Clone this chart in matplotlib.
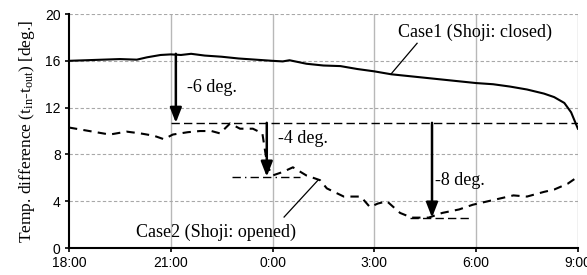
import numpy as np
import matplotlib
matplotlib.use("Agg")
import matplotlib.pyplot as plt

serif = "Liberation Serif"
sans = "Liberation Sans"
plt.rcParams["mathtext.fontset"] = "custom"
plt.rcParams["mathtext.rm"] = serif
plt.rcParams["mathtext.it"] = serif + ":italic"

# hours since 18:00
tick_pos = [0, 3, 6, 9, 12, 15]
tick_labels = ["18:00", "21:00", "0:00", "3:00", "6:00", "9:00"]

h1 = [0, 0.5, 1.0, 1.5, 2.0, 2.3, 2.7, 3.0, 3.3, 3.6, 4.0, 4.5, 5.0, 5.5, 6.0,
      6.3, 6.5, 7.0, 7.5, 8.0, 8.5, 9.0, 9.5, 10.0, 10.5, 11.0, 11.5, 12.0,
      12.5, 13.0, 13.5, 14.0, 14.3, 14.6, 14.8, 14.9, 15.0]
case1 = [16.0, 16.05, 16.1, 16.15, 16.1, 16.3, 16.5, 16.55, 16.5, 16.6, 16.45,
         16.35, 16.2, 16.1, 16.0, 15.95, 16.05, 15.75, 15.6, 15.55, 15.3, 15.1,
         14.85, 14.7, 14.55, 14.4, 14.25, 14.1, 14.0, 13.8, 13.55, 13.2, 12.9,
         12.4, 11.6, 10.9, 10.2]

h2 = [0, 0.6, 1.2, 1.7, 2.1, 2.5, 2.8, 3.06, 3.5, 3.86, 4.2, 4.45, 4.75, 5.04,
      5.42, 5.7, 5.85, 6.0, 6.3, 6.6, 7.0, 7.4, 7.6, 8.1, 8.6, 8.87, 9.1, 9.37,
      9.76, 10.1, 10.6, 11.0, 11.5, 11.9, 12.5, 13.1, 13.5, 14.0, 14.3, 14.7, 15.0]
case2 = [10.3, 10.0, 9.7, 9.95, 9.8, 9.6, 9.3, 9.7, 9.9, 10.0, 10.0, 9.8, 10.65,
         10.2, 10.2, 9.8, 7.0, 6.2, 6.5, 6.9, 6.2, 5.8, 5.1, 4.4, 4.4, 3.5, 3.8,
         4.0, 3.0, 2.6, 2.6, 3.0, 3.3, 3.7, 4.1, 4.5, 4.4, 4.8, 5.0, 5.5, 6.1]

# reference levels and drops
ref_levels = [10.7, 6.1, 2.6]
ref_starts = [3.0, 4.8, 10.05]
ref_ends = [15.0, 6.8, 11.8]
arrow_times = [3.15, 5.83, 10.7]
arrow_tops = [16.6, 10.7, 10.7]
drop_labels = ["-6 deg.", "-4 deg.", "-8 deg."]
label_pos = [(3.48, 13.7), (6.16, 9.4), (10.79, 5.8)]

fig = plt.figure(figsize=(5.87, 2.75), dpi=100)
ax = fig.add_axes([0.1175, 0.098, 0.867, 0.851])

for t in tick_pos[1:]:
    ax.axvline(t, color="#b8b8b8", lw=1.0, zorder=0)
for y in [4, 8, 12, 16, 20]:
    ax.axhline(y, color="#a8a8a8", lw=0.8, ls=(0, (3, 2)), zorder=0)

ax.plot(h1, case1, color="black", lw=1.5)
ax.plot(h2, case2, color="black", lw=1.5, ls=(0, (4, 3)))

ax.hlines(ref_levels[0], ref_starts[0], ref_ends[0], color="black", lw=1.0, ls=(0, (6, 3)))
ax.hlines(ref_levels[1], ref_starts[1], ref_ends[1], color="black", lw=1.0, ls=(0, (6, 3, 1, 3, 6, 3)))
ax.hlines(ref_levels[2], ref_starts[2], ref_ends[2], color="black", lw=1.0, ls=(0, (6, 3)))

for t, top, end in zip(arrow_times, arrow_tops, ref_levels):
    ax.annotate("", xy=(t, end), xytext=(t, top),
                arrowprops=dict(arrowstyle="-|>,head_width=0.35,head_length=0.9",
                                color="black", lw=1.8, shrinkA=0, shrinkB=0))

for txt, (x, y) in zip(drop_labels, label_pos):
    ax.text(x, y, txt, family=serif, fontsize=13, va="center")

# case labels with leader lines
ax.text(9.7, 18.4, "Case1 (Shoji: closed)", family=serif, fontsize=13, va="center")
ax.plot([10.26, 9.5], [17.5, 14.9], color="black", lw=0.9)
ax.text(1.97, 1.37, "Case2 (Shoji: opened)", family=serif, fontsize=13, va="center")
ax.plot([6.34, 7.34], [2.65, 5.8], color="black", lw=0.9)

ax.set_xlim(0, 15)
ax.set_ylim(0, 20)
ax.set_xticks(tick_pos)
ax.set_xticklabels(tick_labels, family=sans, fontsize=10)
ax.set_yticks([0, 4, 8, 12, 16, 20])
ax.set_yticklabels(["0", "4", "8", "12", "16", "20"], family=sans, fontsize=10)
ax.tick_params(direction="out", length=3, width=1.2, pad=3)
ax.set_ylabel(r"Temp. difference (t$_{\mathrm{in}}$-t$_{\mathrm{out}}$) [deg.]",
              family=serif, fontsize=12.5, labelpad=6)

for s in ["top", "right"]:
    ax.spines[s].set_visible(False)
for s in ["left", "bottom"]:
    ax.spines[s].set_linewidth(1.5)

fig.savefig("out.png", dpi=100)
